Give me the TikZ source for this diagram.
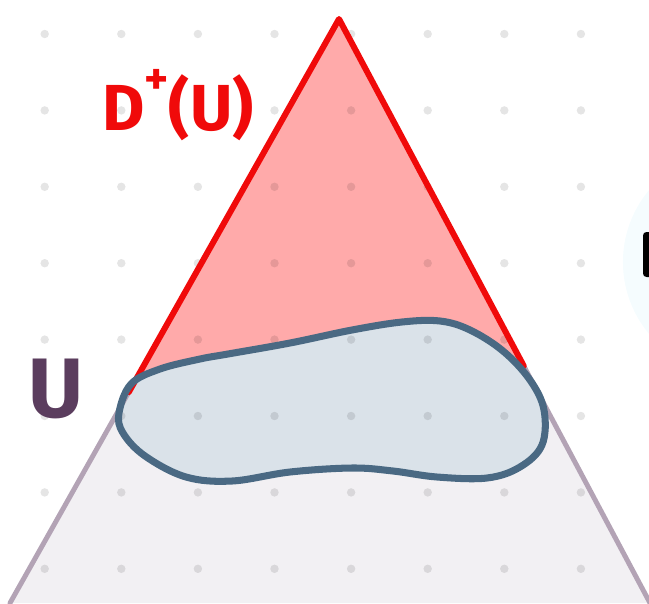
\documentclass[tikz,border=0pt]{standalone}
\usepackage{fontspec}
\newfontfamily\handfont{Fira Sans}
\usepackage{xcolor}
\usepackage{tikz}
\usetikzlibrary{positioning,calc}

\definecolor{conered}{HTML}{F00A0A}
\definecolor{redfill}{HTML}{FFAAAA}
\definecolor{conegrey}{HTML}{B3A3B5}
\definecolor{lowfill}{HTML}{F2F0F3}
\definecolor{blobline}{HTML}{4A6983}
\definecolor{blobfill}{HTML}{DAE2E9}
\definecolor{ulabel}{HTML}{5B3D5E}

\begin{document}
\begin{tikzpicture}[
  x=0.01cm, y=-0.01cm,
  gdot/.style={fill=black, fill opacity=0.1, draw=none},
  edge/.style={draw=conegrey, line width=1.4pt, line cap=round},
  redge/.style={draw=conered, line width=1.7pt, line cap=round, line join=round},
  blob/.style={draw=blobline, line width=2pt, fill=blobfill},
  lbl/.style={font=\handfont, inner sep=0pt, anchor=base},
]
\useasboundingbox (0,0) rectangle (649,603);
\clip (0,0) rectangle (649,603);

%% cut-off shape at the right border
\fill[cyan!4] (735,262) circle (1.12cm);
\fill[black, rounded corners=1pt] (643,232) rectangle (660,277);

%% cone corners
\coordinate (apex) at (339,19);
\coordinate (bl) at (10,603);
\coordinate (br) at (650,603);
\coordinate (ul) at ($(apex)!0.639!(bl)$);
\coordinate (ur) at ($(apex)!0.594!(br)$);

%% fills
\fill[lowfill] (apex) -- (bl) -- (br) -- cycle;
\fill[redfill] (apex) -- (ul) -- (ur) -- cycle;

%% the set U
\fill[blobfill] plot[smooth cycle, tension=0.6] coordinates {
  (119,413) (131,384) (160,369) (200,359) (228,354) (290,343)
  (352,330) (402,322) (440,321) (470,330) (503,351) (530,380)
  (544,410) (542,445) (520,467) (487,478) (437,477) (393,471)
  (352,468) (290,472) (232,481) (186,477) (145,456) (123,433)};

%% dotted grid
\foreach \i in {0,...,7}
  \foreach \j in {0,...,7}
    \fill[gdot] ({44.7+76.6*\i},{34+76.4*\j}) circle (1.2pt);

%% cone edges
\draw[edge] (ul) -- (bl);
\draw[edge] (ur) -- (br);
\draw[redge] (ul) -- (apex) -- (ur);

%% outline of U
\draw[blob, fill=none] plot[smooth cycle, tension=0.6] coordinates {
  (119,413) (131,384) (160,369) (200,359) (228,354) (290,343)
  (352,330) (402,322) (440,321) (470,330) (503,351) (530,380)
  (544,410) (542,445) (520,467) (487,478) (437,477) (393,471)
  (352,468) (290,472) (232,481) (186,477) (145,456) (123,433)};

%% labels
\node[lbl, text=conered, font=\handfont\bfseries\fontsize{18.5}{20}\selectfont]
  (dplus) at (178,130) {D\raisebox{0.55em}{\fontsize{13}{14}\selectfont +}(U)};
\node[lbl, text=ulabel, font=\handfont\bfseries\fontsize{24}{26}\selectfont]
  (uset) at (56,417) {U};
\end{tikzpicture}
\end{document}
